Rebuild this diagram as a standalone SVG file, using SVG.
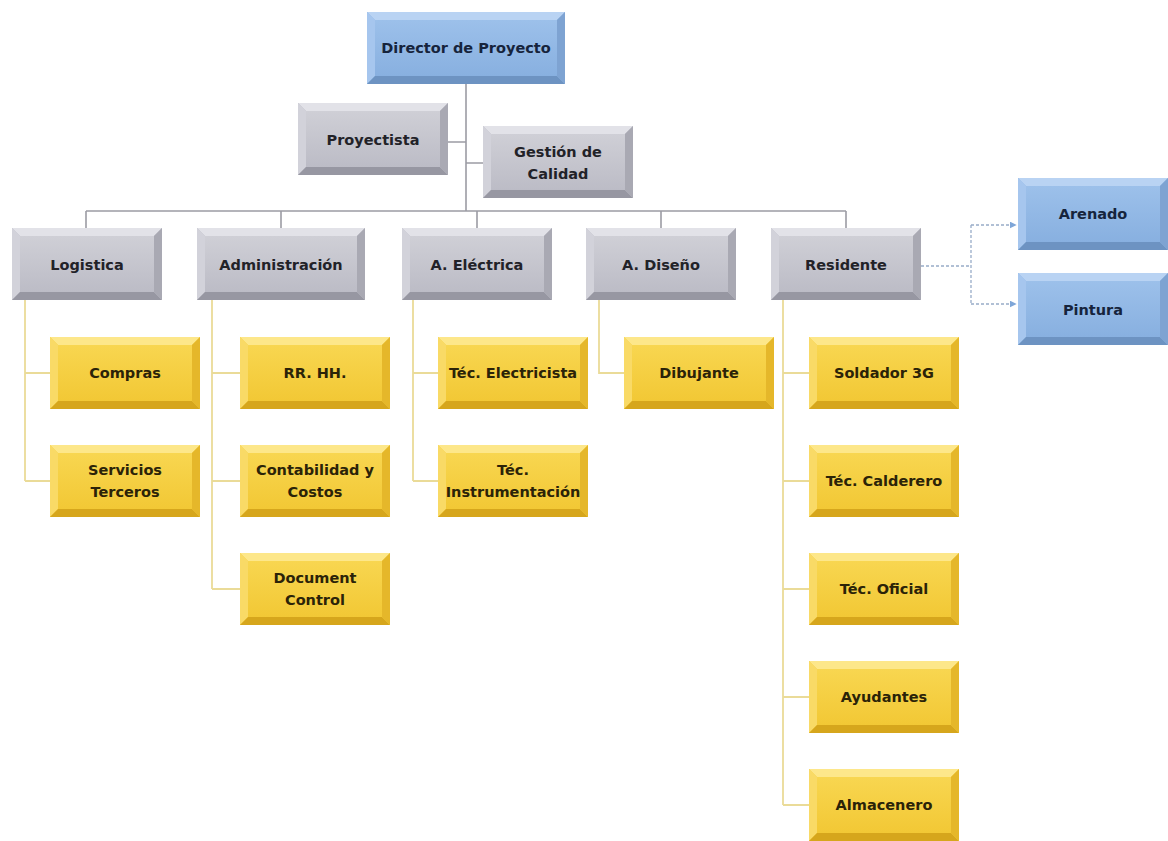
<svg xmlns="http://www.w3.org/2000/svg" xmlns:xlink="http://www.w3.org/1999/xlink" width="1168" height="841" viewBox="0 0 1168 841">
<defs>
<style>
.t{font-family:"DejaVu Sans","Verdana",sans-serif;font-weight:bold;font-size:14.5px;text-anchor:middle;dominant-baseline:central}
.tg{fill:#222228}.tb{fill:#16243c}.ty{fill:#2b2308}
.cg{stroke:#9c9ca4;stroke-width:1.6;fill:none}
.cy{stroke:#eadb98;stroke-width:1.8;fill:none}
.cd{stroke:#98acc8;stroke-width:1.3;fill:none;stroke-dasharray:3,2}
.g0{fill:#bdbdc6}.g1{fill:#e2e2e8}.g2{fill:#d2d2da}.g3{fill:#9797a2}.g4{fill:#a9a9b3}
.b0{fill:#8fb6e4}.b1{fill:#b9d3f3}.b2{fill:#a6c6ee}.b3{fill:#6d93c2}.b4{fill:#7ea3d2}
.y0{fill:#f5cd3c}.y1{fill:#fde78a}.y2{fill:#f9da66}.y3{fill:#d6a61c}.y4{fill:#e5b72a}
</style>
<linearGradient id="gf" x1="0" y1="0" x2="0" y2="1"><stop offset="0" stop-color="#cfcfd6"/><stop offset="1" stop-color="#bcbcc6"/></linearGradient>
<linearGradient id="bf" x1="0" y1="0" x2="0" y2="1"><stop offset="0" stop-color="#9cc0ea"/><stop offset="1" stop-color="#88b0e0"/></linearGradient>
<linearGradient id="yf" x1="0" y1="0" x2="0" y2="1"><stop offset="0" stop-color="#f8d650"/><stop offset="1" stop-color="#f2c835"/></linearGradient>
<marker id="ar" viewBox="0 0 10 10" refX="9" refY="5" markerWidth="7" markerHeight="7" orient="auto" markerUnits="userSpaceOnUse"><path d="M0,0 L10,5 L0,10 z" fill="#7ea6d8"/></marker>
<symbol id="gray150" overflow="visible">
<rect width="150" height="72" class="g0"/>
<polygon points="0,0 150,0 142,8 8,8" class="g1"/>
<polygon points="0,0 8,8 8,64 0,72" class="g2"/>
<polygon points="0,72 8,64 142,64 150,72" class="g3"/>
<polygon points="150,0 150,72 142,64 142,8" class="g4"/>
<rect x="8" y="8" width="134" height="56" fill="url(#gf)"/>
</symbol>
<symbol id="gray168" overflow="visible">
<rect width="168" height="72" class="g0"/>
<polygon points="0,0 168,0 160,8 8,8" class="g1"/>
<polygon points="0,0 8,8 8,64 0,72" class="g2"/>
<polygon points="0,72 8,64 160,64 168,72" class="g3"/>
<polygon points="168,0 168,72 160,64 160,8" class="g4"/>
<rect x="8" y="8" width="152" height="56" fill="url(#gf)"/>
</symbol>
<symbol id="blue150" overflow="visible">
<rect width="150" height="72" class="b0"/>
<polygon points="0,0 150,0 142,8 8,8" class="b1"/>
<polygon points="0,0 8,8 8,64 0,72" class="b2"/>
<polygon points="0,72 8,64 142,64 150,72" class="b3"/>
<polygon points="150,0 150,72 142,64 142,8" class="b4"/>
<rect x="8" y="8" width="134" height="56" fill="url(#bf)"/>
</symbol>
<symbol id="blue198" overflow="visible">
<rect width="198" height="72" class="b0"/>
<polygon points="0,0 198,0 190,8 8,8" class="b1"/>
<polygon points="0,0 8,8 8,64 0,72" class="b2"/>
<polygon points="0,72 8,64 190,64 198,72" class="b3"/>
<polygon points="198,0 198,72 190,64 190,8" class="b4"/>
<rect x="8" y="8" width="182" height="56" fill="url(#bf)"/>
</symbol>
<symbol id="yel150" overflow="visible">
<rect width="150" height="72" class="y0"/>
<polygon points="0,0 150,0 142,8 8,8" class="y1"/>
<polygon points="0,0 8,8 8,64 0,72" class="y2"/>
<polygon points="0,72 8,64 142,64 150,72" class="y3"/>
<polygon points="150,0 150,72 142,64 142,8" class="y4"/>
<rect x="8" y="8" width="134" height="56" fill="url(#yf)"/>
</symbol>
</defs>
<rect width="1168" height="841" fill="#ffffff"/>

<g id="connectors">
<path class="cg" d="M466,84 V211 M448,142 H466 M466,163 H483 M86,211 H846 M86,211 V228 M281,211 V228 M477,211 V228 M661,211 V228 M846,211 V228"/>
<path class="cy" d="M25,300 V481 M25,373 H50 M25,481 H50"/>
<path class="cy" d="M212,300 V589 M212,373 H240 M212,481 H240 M212,589 H240"/>
<path class="cy" d="M413,300 V481 M413,373 H438 M413,481 H438"/>
<path class="cy" d="M599,300 V373 H624"/>
<path class="cy" d="M783,300 V805 M783,373 H809 M783,481 H809 M783,589 H809 M783,697 H809 M783,805 H809"/>
<path class="cd" d="M921,266 H971 M971,225 V304"/>
<path class="cd" d="M971,225 H1016" marker-end="url(#ar)"/>
<path class="cd" d="M971,304 H1016" marker-end="url(#ar)"/>
</g>

<g id="director"><use href="#blue198" x="367" y="12"/><text class="t tb" x="466" y="48">Director de Proyecto</text></g>
<g id="proyectista"><use href="#gray150" x="298" y="103"/><text class="t tg" x="373" y="140">Proyectista</text></g>
<g id="gestion"><use href="#gray150" x="483" y="126"/><text class="t tg" x="558" y="152">Gestión  de</text><text class="t tg" x="558" y="174">Calidad</text></g>

<g id="logistica"><use href="#gray150" x="12" y="228"/><text class="t tg" x="87" y="265">Logistica</text></g>
<g id="administracion"><use href="#gray168" x="197" y="228"/><text class="t tg" x="281" y="265">Administración</text></g>
<g id="electrica"><use href="#gray150" x="402" y="228"/><text class="t tg" x="477" y="265">A. Eléctrica</text></g>
<g id="diseno"><use href="#gray150" x="586" y="228"/><text class="t tg" x="661" y="265">A. Diseño</text></g>
<g id="residente"><use href="#gray150" x="771" y="228"/><text class="t tg" x="846" y="265">Residente</text></g>

<g id="arenado"><use href="#blue150" x="1018" y="178"/><text class="t tb" x="1093" y="214">Arenado</text></g>
<g id="pintura"><use href="#blue150" x="1018" y="273"/><text class="t tb" x="1093" y="310">Pintura</text></g>

<g id="compras"><use href="#yel150" x="50" y="337"/><text class="t ty" x="125" y="373">Compras</text></g>
<g id="servicios"><use href="#yel150" x="50" y="445"/><text class="t ty" x="125" y="470">Servicios</text><text class="t ty" x="125" y="492">Terceros</text></g>

<g id="rrhh"><use href="#yel150" x="240" y="337"/><text class="t ty" x="315" y="373">RR. HH.</text></g>
<g id="contabilidad"><use href="#yel150" x="240" y="445"/><text class="t ty" x="315" y="470">Contabilidad y</text><text class="t ty" x="315" y="492">Costos</text></g>
<g id="document"><use href="#yel150" x="240" y="553"/><text class="t ty" x="315" y="578">Document</text><text class="t ty" x="315" y="600">Control</text></g>

<g id="electricista"><use href="#yel150" x="438" y="337"/><text class="t ty" x="513" y="373">Téc. Electricista</text></g>
<g id="instrumentacion"><use href="#yel150" x="438" y="445"/><text class="t ty" x="513" y="470">Téc.</text><text class="t ty" x="513" y="492">Instrumentación</text></g>

<g id="dibujante"><use href="#yel150" x="624" y="337"/><text class="t ty" x="699" y="373">Dibujante</text></g>

<g id="soldador"><use href="#yel150" x="809" y="337"/><text class="t ty" x="884" y="373">Soldador 3G</text></g>
<g id="calderero"><use href="#yel150" x="809" y="445"/><text class="t ty" x="884" y="481">Téc. Calderero</text></g>
<g id="oficial"><use href="#yel150" x="809" y="553"/><text class="t ty" x="884" y="589">Téc. Oficial</text></g>
<g id="ayudantes"><use href="#yel150" x="809" y="661"/><text class="t ty" x="884" y="697">Ayudantes</text></g>
<g id="almacenero"><use href="#yel150" x="809" y="769"/><text class="t ty" x="884" y="805">Almacenero</text></g>
</svg>
